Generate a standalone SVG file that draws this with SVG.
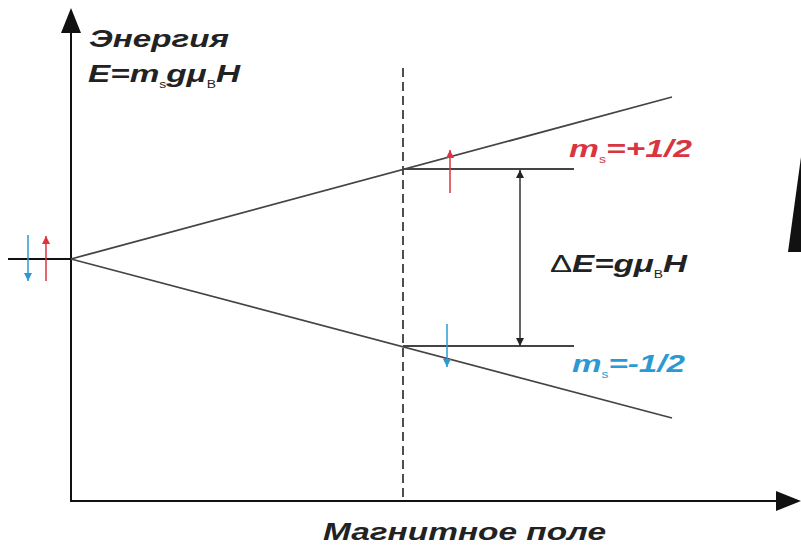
<svg xmlns="http://www.w3.org/2000/svg" width="801" height="547" viewBox="0 0 801 547">
<style>
.t{font-family:"Liberation Sans",Arial,sans-serif;font-weight:bold;font-style:italic;font-size:24px}
.sub{font-size:10px;font-style:normal;font-weight:normal}
.ax{stroke:#111;stroke-width:2;fill:none}
.ln{stroke:#444;stroke-width:1.8;fill:none}
</style>
<defs>
<marker id="ah" viewBox="0 0 10 10" refX="10" refY="5" markerWidth="9" markerHeight="8" markerUnits="userSpaceOnUse" orient="auto"><path d="M0,0L10,5L0,10z" fill="#222"/></marker>
<marker id="ahr" viewBox="0 0 10 10" refX="10" refY="5" markerWidth="9" markerHeight="8" markerUnits="userSpaceOnUse" orient="auto"><path d="M0,0L10,5L0,10z" fill="#d9343f"/></marker>
<marker id="ahb" viewBox="0 0 10 10" refX="10" refY="5" markerWidth="9" markerHeight="8" markerUnits="userSpaceOnUse" orient="auto"><path d="M0,0L10,5L0,10z" fill="#2b9ad3"/></marker>
</defs>
<rect width="801" height="547" fill="#fff"/>
<g id="connectors">
<polygon points="71,8 61,33 81,33" fill="#111"/>
<line class="ax" x1="71" y1="30" x2="71" y2="502"/>
<polygon points="801,501 776,491 776,511" fill="#111"/>
<line class="ax" x1="70" y1="501" x2="778" y2="501"/>
<line class="ax" x1="8" y1="259" x2="71" y2="259"/>
<line x1="403" y1="68" x2="403" y2="500" stroke="#222" stroke-width="1.6" stroke-dasharray="9,5"/>
<line class="ln" x1="71" y1="259" x2="672" y2="97"/>
<line class="ln" x1="71" y1="259" x2="672" y2="418"/>
<line class="ln" x1="403" y1="169" x2="574" y2="169" stroke="#555"/>
<line class="ln" x1="403" y1="346" x2="574" y2="346" stroke="#555"/>
<line x1="520" y1="250" x2="520" y2="170" stroke="#333" stroke-width="1.5" marker-end="url(#ah)"/>
<line x1="520" y1="250" x2="520" y2="346" stroke="#333" stroke-width="1.5" marker-end="url(#ah)"/>
<line x1="450" y1="193" x2="450" y2="150" stroke="#d9343f" stroke-width="1.5" marker-end="url(#ahr)"/>
<line x1="447" y1="324" x2="447" y2="367" stroke="#2b9ad3" stroke-width="1.5" marker-end="url(#ahb)"/>
<line x1="28" y1="235" x2="28" y2="281" stroke="#2b9ad3" stroke-width="1.5" marker-end="url(#ahb)"/>
<line x1="46" y1="281" x2="46" y2="236" stroke="#d9343f" stroke-width="1.5" marker-end="url(#ahr)"/>
</g>
<g id="energy-label">
<text class="t" x="89" y="47" fill="#222" textLength="140" lengthAdjust="spacingAndGlyphs">Энергия</text>
<text class="t" x="88" y="82" fill="#222" textLength="152" lengthAdjust="spacingAndGlyphs">E=m<tspan class="sub" dy="6">s</tspan><tspan dy="-6">gμ</tspan><tspan class="sub" dy="6">B</tspan><tspan dy="-6">H</tspan></text>
</g>
<g id="level-up">
<text class="t" x="569" y="157" fill="#d9343f" textLength="123" lengthAdjust="spacingAndGlyphs">m<tspan class="sub" dy="6">s</tspan><tspan dy="-6">=+1/2</tspan></text>
</g>
<g id="level-down">
<text class="t" x="572" y="372" fill="#2b9ad3" textLength="113" lengthAdjust="spacingAndGlyphs">m<tspan class="sub" dy="6">s</tspan><tspan dy="-6">=-1/2</tspan></text>
</g>
<g id="delta-e">
<text class="t" x="550" y="272" fill="#222" textLength="137" lengthAdjust="spacingAndGlyphs"><tspan font-style="normal" font-weight="normal">Δ</tspan>E=gμ<tspan class="sub" dy="6">B</tspan><tspan dy="-6">H</tspan></text>
</g>
<g id="field-label">
<text class="t" x="323" y="540" fill="#222" textLength="283" lengthAdjust="spacingAndGlyphs">Магнитное поле</text>
</g>
<polygon points="801,157 788,252 801,252" fill="#111"/>
</svg>
